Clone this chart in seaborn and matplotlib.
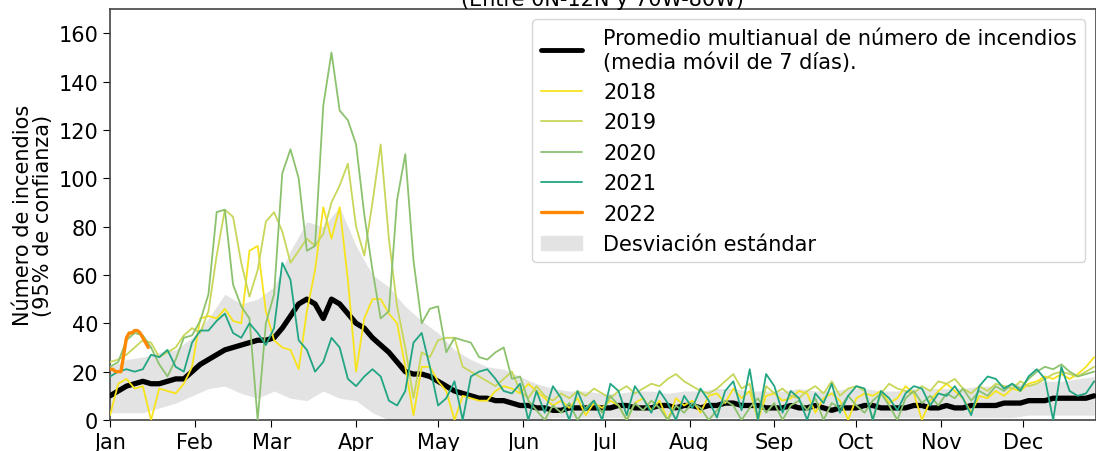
import numpy as np
import pandas as pd
import matplotlib
matplotlib.use("Agg")
import matplotlib.pyplot as plt
import matplotlib.dates as mdates
from matplotlib.lines import Line2D
from matplotlib.patches import Patch
import seaborn as sns

# --- datos (muestreo cada 3 días desde el 1 de enero) ---
fechas = pd.date_range("2021-01-01", periods=121, freq="3D")

anio_2018 = [2, 15, 17, 13, 14, 0, 13, 12, 11, 15,
             22, 42, 43, 42, 46, 41, 40, 70, 72, 45,
             33, 30, 29, 21, 45, 62, 88, 75, 88, 58,
             20, 42, 50, 50, 44, 40, 22, 2, 22, 22,
             16, 12, 0, 10, 9, 8, 8, 12, 14, 13,
             11, 15, 12, 9, 6, 8, 5, 9, 2, 7,
             5, 8, 6, 0, 7, 9, 4, 8, 0, 9,
             6, 8, 3, 10, 11, 7, 13, 9, 12, 0,
             10, 11, 8, 9, 12, 11, 3, 9, 11, 8,
             0, 9, 11, 10, 12, 7, 9, 14, 11, 0,
             8, 12, 15, 12, 9, 3, 10, 9, 12, 10,
             13, 12, 15, 16, 18, 17, 19, 17, 19, 22,
             26]

anio_2019 = [24, 25, 27, 30, 33, 32, 26, 28, 30, 35,
             38, 36, 45, 68, 87, 84, 65, 51, 62, 82,
             86, 78, 65, 70, 75, 72, 77, 90, 97, 106,
             80, 68, 90, 114, 75, 47, 30, 9, 28, 26,
             33, 34, 34, 22, 20, 18, 16, 14, 17, 20,
             12, 9, 14, 10, 8, 11, 9, 12, 10, 13,
             11, 9, 12, 14, 11, 13, 15, 14, 17, 19,
             16, 14, 12, 11, 13, 16, 19, 13, 15, 0,
             14, 11, 13, 10, 9, 12, 14, 11, 16, 10,
             13, 14, 12, 0, 11, 15, 13, 12, 11, 14,
             12, 16, 15, 17, 13, 11, 14, 12, 15, 14,
             13, 16, 14, 15, 17, 19, 20, 19, 18, 20,
             22]

anio_2020 = [22, 24, 33, 36, 35, 30, 23, 18, 25, 34,
             35, 41, 52, 86, 87, 56, 47, 42, 0, 40,
             52, 102, 112, 100, 70, 72, 130, 152, 128, 124,
             114, 85, 62, 42, 45, 91, 110, 66, 40, 46,
             47, 28, 34, 33, 32, 26, 25, 28, 30, 17,
             18, 8, 4, 0, 6, 3, 7, 0, 5, 8,
             3, 10, 6, 0, 7, 4, 8, 5, 0, 6,
             3, 7, 5, 0, 4, 8, 6, 0, 5, 9,
             3, 7, 0, 6, 8, 4, 9, 0, 7, 5,
             10, 6, 3, 8, 11, 6, 0, 9, 12, 7,
             10, 6, 11, 9, 13, 8, 12, 10, 14, 12,
             15, 13, 17, 20, 22, 21, 23, 20, 18, 19,
             20]

anio_2021 = [18, 20, 21, 20, 21, 27, 26, 29, 22, 20,
             32, 37, 37, 41, 44, 36, 34, 40, 36, 31,
             38, 65, 58, 33, 29, 20, 24, 34, 30, 17,
             14, 18, 21, 18, 8, 6, 12, 32, 36, 22,
             6, 9, 16, 0, 18, 20, 21, 17, 12, 11,
             15, 0, 12, 3, 14, 9, 0, 12, 4, 8,
             0, 15, 12, 2, 14, 9, 3, 12, 7, 0,
             10, 5, 13, 8, 1, 12, 16, 4, 21, 0,
             19, 14, 3, 12, 9, 0, 11, 7, 15, 3,
             10, 14, 13, 0, 12, 9, 4, 11, 14, 13,
             6, 11, 10, 14, 9, 2, 14, 18, 17, 13,
             15, 12, 18, 21, 17, 0, 22, 12, 10, 11,
             16]

promedio = [10, 12, 14, 15, 16, 15, 15, 16, 17, 17,
            20, 23, 25, 27, 29, 30, 31, 32, 33, 33,
            34, 38, 43, 48, 50, 48, 42, 50, 48, 44,
            40, 38, 34, 31, 28, 24, 20, 19, 19, 18,
            16, 14, 12, 11, 10, 9, 9, 8, 8, 7,
            6, 6, 5, 5, 4, 4, 5, 5, 5, 5,
            5, 5, 6, 6, 5, 5, 5, 6, 6, 5,
            6, 6, 5, 6, 6, 7, 7, 6, 6, 6,
            5, 5, 5, 6, 5, 5, 6, 5, 4, 5,
            5, 5, 6, 6, 5, 5, 5, 5, 6, 6,
            5, 5, 6, 5, 5, 6, 6, 6, 6, 7,
            7, 7, 8, 8, 8, 9, 9, 9, 9, 9,
            10]

# 2022: solo las primeras semanas de enero (diario)
fechas_2022 = pd.date_range("2021-01-01", periods=15, freq="D")
anio_2022 = [21, 21, 20, 20, 20, 27, 34, 36, 36, 37, 37, 36, 34, 32, 30]

# banda de desviación estándar (cada 6 días)
fechas_std = pd.date_range("2021-01-01", periods=61, freq="6D")
std_sup = [22, 25, 26, 28, 29, 34, 42, 52, 48, 50,
           55, 70, 82, 80, 88, 72, 60, 55, 47, 41,
           36, 29, 25, 22, 21, 18, 15, 13, 12, 12,
           11, 11, 12, 12, 11, 12, 12, 13, 13, 12,
           12, 12, 13, 12, 12, 13, 13, 12, 12, 13,
           13, 13, 13, 14, 14, 15, 15, 16, 16, 17,
           18]
std_inf = [3, 3, 3, 5, 7, 10, 13, 14, 11, 9,
           12, 9, 8, 12, 9, 8, 3, 0, 0, 0,
           0, 0, 0, 0, 0, 0, 0, 1, 1, 1,
           1, 1, 1, 1, 1, 1, 1, 1, 1, 1,
           1, 1, 1, 1, 1, 1, 1, 1, 1, 1,
           1, 1, 1, 1, 1, 1, 2, 2, 2, 2,
           2]

colores = {"2018": "#f7e31c", "2019": "#c8d65a", "2020": "#8cc26e",
           "2021": "#22a583", "2022": "#ff8800"}

sns.set_style("ticks")
plt.rcParams["font.family"] = ["DejaVu Sans"]
plt.rcParams["text.color"] = "black"
plt.rcParams["axes.labelcolor"] = "black"
plt.rcParams["xtick.color"] = "black"
plt.rcParams["ytick.color"] = "black"

fs = 15

fig = plt.figure(figsize=(10.96, 4.52), dpi=100)
ax = fig.add_axes([0.1004, 0.0686, 0.8994, 0.9092])

ax.fill_between(fechas_std, std_inf, std_sup, color="#e3e3e3", lw=0, zorder=1)

sns.lineplot(x=fechas, y=promedio, ax=ax, color="black", lw=3.8, zorder=3)

series = [("2018", anio_2018), ("2019", anio_2019), ("2020", anio_2020), ("2021", anio_2021)]
for nombre, valores in series:
    sns.lineplot(x=fechas, y=valores, ax=ax, color=colores[nombre], lw=1.3, zorder=4)

sns.lineplot(x=fechas_2022, y=anio_2022, ax=ax, color=colores["2022"], lw=2.4, zorder=5)

ax.set_xlim(pd.Timestamp("2021-01-01"), pd.Timestamp("2021-12-27 14:00"))
ax.set_ylim(0, 170)
ax.set_yticks(range(0, 161, 20))
ax.xaxis.set_major_locator(mdates.MonthLocator())
ax.xaxis.set_major_formatter(mdates.DateFormatter("%b"))
ax.tick_params(labelsize=fs, length=5, color="black")
for s in ax.spines.values():
    s.set_color("#444444")
    s.set_linewidth(1.2)

ax.set_xlabel("")
ax.set_ylabel("Número de incendios\n(95% de confianza)", fontsize=fs, linespacing=1.0, labelpad=4)
ax.set_title("(Entre 0N-12N y 70W-80W)", fontsize=fs, pad=0)

handles = [Line2D([], [], color="black", lw=3.5)]
handles += [Line2D([], [], color=colores[n], lw=1.3) for n in ["2018", "2019", "2020", "2021"]]
handles += [Line2D([], [], color=colores["2022"], lw=2.4), Patch(color="#e3e3e3")]
labels = ["Promedio multianual de número de incendios\n(media móvil de 7 días).",
          "2018", "2019", "2020", "2021", "2022", "Desviación estándar"]
ax.legend(handles, labels, loc="upper right", fontsize=fs, handlelength=2.0,
          labelspacing=0.5, handletextpad=1.0, borderaxespad=0.5)

fig.savefig("out.png", dpi=100)
